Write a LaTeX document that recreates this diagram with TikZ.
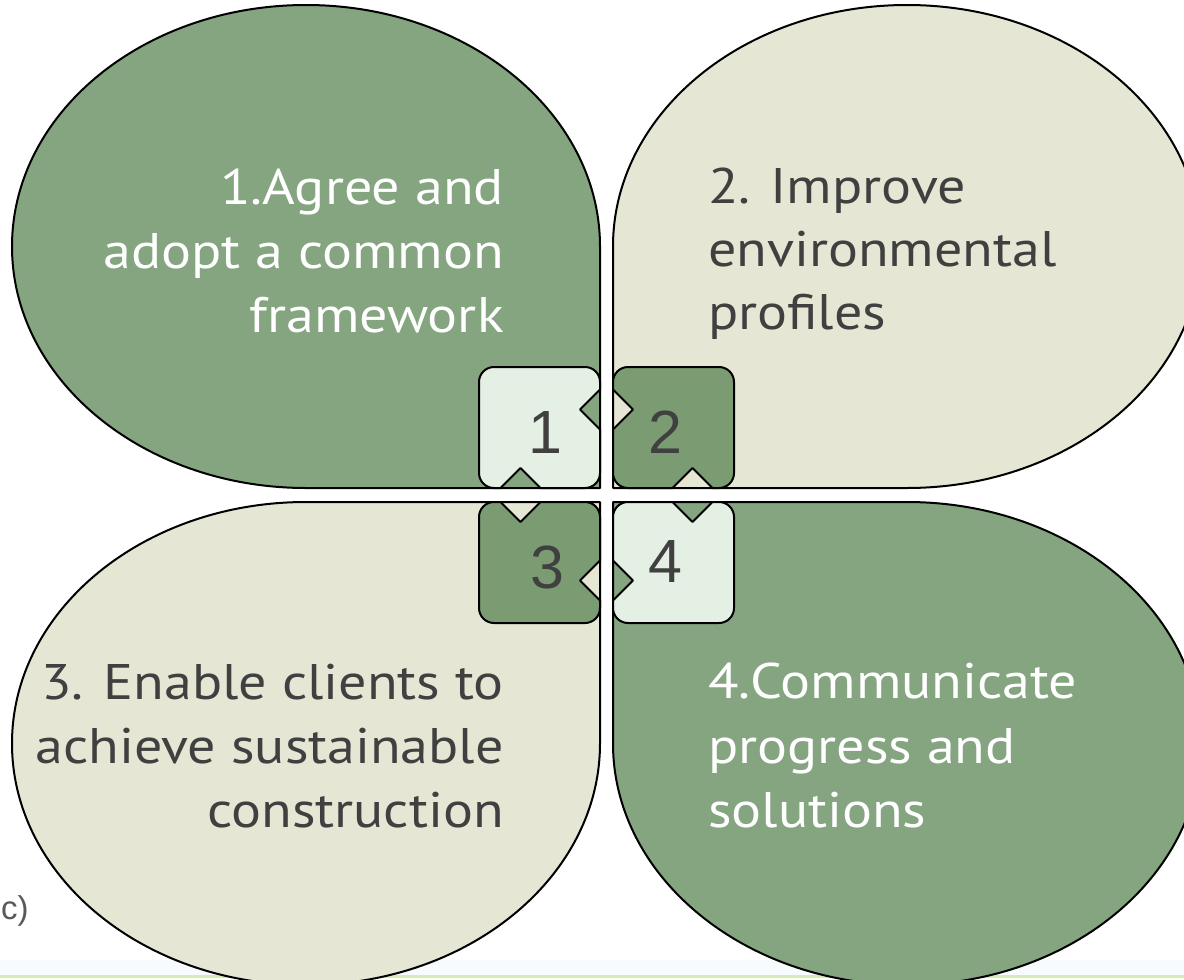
\documentclass[tikz,border=0pt]{standalone}
\usepackage{fontspec}
\setmainfont{PT Sans}[FakeStretch=1.12]
\newfontfamily\digitfont{Liberation Sans}
\definecolor{qgreen}{RGB}{132,165,128}
\definecolor{qbeige}{RGB}{230,230,212}
\definecolor{pdark}{RGB}{123,156,115}
\definecolor{plight}{RGB}{229,240,229}
\definecolor{tgray}{RGB}{64,64,64}
\definecolor{cgray}{RGB}{89,89,89}
\definecolor{footline}{RGB}{214,236,180}
\definecolor{footbg}{RGB}{247,251,253}
\tikzset{
  quad/.style={draw=black, line width=2pt, line join=round},
  greenq/.style={quad, fill=qgreen},
  beigeq/.style={quad, fill=qbeige},
  piecedark/.style={quad, fill=pdark},
  piecelight/.style={quad, fill=plight},
  lbl/.style={font=\fontsize{50}{60}\selectfont, inner sep=0pt},
  lblw/.style={lbl, text=white},
  lblg/.style={lbl, text=tgray},
  digit/.style={font=\digitfont\fontsize{61}{72}\selectfont, text=tgray, inner sep=0pt},
}
\begin{document}
\begin{tikzpicture}[x=1pt,y=-1pt]
\clip (0,0) rectangle (1184,980);
\fill[white] (0,0) rectangle (1184,980);
% footer
\fill[footbg] (0,960) rectangle (1184,975);
\draw[footline, line width=3pt] (0,976.5) -- (1184,976.5);
% quadrants
\draw[greenq] (600,488) -- (306,488) arc[start angle=90,end angle=360,x radius=294,y radius=241.5] -- cycle;
\draw[beigeq] (613,488) -- (613,246.5) arc[start angle=180,end angle=450,x radius=294,y radius=241.5] -- cycle;
\draw[beigeq] (600,502) -- (600,743.5) arc[start angle=0,end angle=270,x radius=294,y radius=241.5] -- cycle;
\draw[greenq] (613,502) -- (907,502) arc[start angle=270,end angle=540,x radius=294,y radius=241.5] -- cycle;
% puzzle pieces
\draw[piecelight] (494,367) -- (585,367) arc[start angle=270,end angle=360,radius=15]
  -- (600,389.5) -- (580,409.5) -- (600,429.5) -- (600,473) arc[start angle=0,end angle=90,radius=15]
  -- (540.5,488) -- (520.5,468) -- (500.5,488) -- (494,488) arc[start angle=90,end angle=180,radius=15]
  -- (479,382) arc[start angle=180,end angle=270,radius=15] -- cycle;
\draw[piecedark] (628,367) -- (719,367) arc[start angle=270,end angle=360,radius=15]
  -- (734,473) arc[start angle=0,end angle=90,radius=15]
  -- (712.5,488) -- (692.5,468) -- (672.5,488) -- (628,488) arc[start angle=90,end angle=180,radius=15]
  -- (613,429.5) -- (633,409.5) -- (613,389.5) -- (613,382) arc[start angle=180,end angle=270,radius=15] -- cycle;
\draw[piecedark] (494,502) -- (500.5,502) -- (520.5,522) -- (540.5,502) -- (585,502) arc[start angle=270,end angle=360,radius=15]
  -- (600,560.5) -- (580,580.5) -- (600,600.5) -- (600,608) arc[start angle=0,end angle=90,radius=15]
  -- (494,623) arc[start angle=90,end angle=180,radius=15]
  -- (479,517) arc[start angle=180,end angle=270,radius=15] -- cycle;
\draw[piecelight] (628,502) -- (672.5,502) -- (692.5,522) -- (712.5,502) -- (719,502) arc[start angle=270,end angle=360,radius=15]
  -- (734,608) arc[start angle=0,end angle=90,radius=15]
  -- (628,623) arc[start angle=90,end angle=180,radius=15]
  -- (613,600.5) -- (633,580.5) -- (613,560.5) -- (613,517) arc[start angle=180,end angle=270,radius=15] -- cycle;
% digits
\node[digit] (n1) at (545,433) {1};
\node[digit] (n2) at (665,432) {2};
\node[digit] (n3) at (547,567) {3};
\node[digit] (n4) at (665,562) {4};
% texts
\node[lblw, anchor=base east] (t1a) at (504,204) {1.Agree and};
\node[lblw, anchor=base east] (t1b) at (504,268) {adopt a common};
\node[lblw, anchor=base east] (t1c) at (504,332) {framework};
\node[lblg, anchor=base west] (t2a) at (708,203) {2. Improve};
\node[lblg, anchor=base west] (t2b) at (708,266) {environmental};
\node[lblg, anchor=base west] (t2c) at (708,329) {profiles};
\node[lblg, anchor=base east] (t3a) at (504,699) {3. Enable clients to};
\node[lblg, anchor=base east] (t3b) at (504,763) {achieve sustainable};
\node[lblg, anchor=base east] (t3c) at (504,827) {construction};
\node[lblw, anchor=base west] (t4a) at (708,698) {4.Communicate};
\node[lblw, anchor=base west] (t4b) at (708,763) {progress and};
\node[lblw, anchor=base west] (t4c) at (708,827) {solutions};
% note at the left edge
\node[font=\digitfont\fontsize{33}{40}\selectfont, text=cgray, inner sep=0pt, anchor=base west] (note) at (1,919) {c)};
\end{tikzpicture}
\end{document}
